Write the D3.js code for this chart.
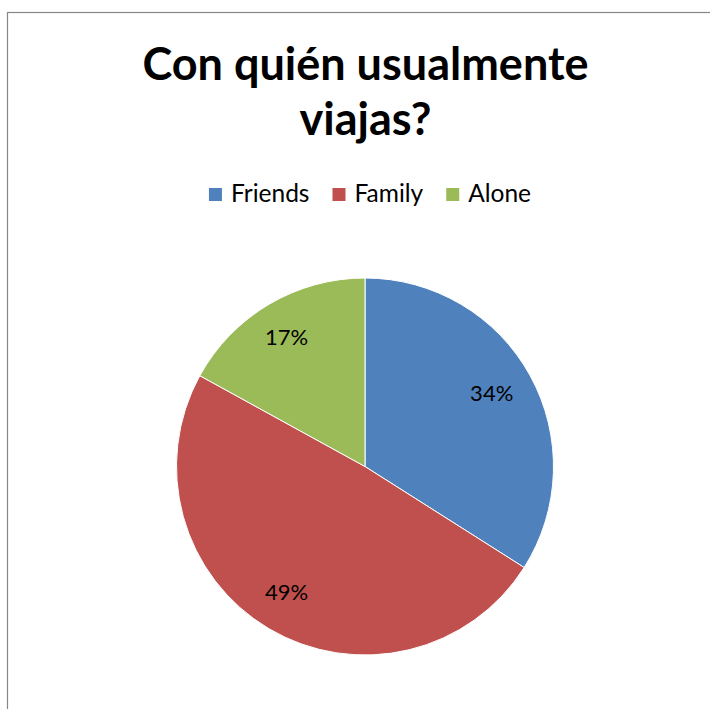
<!DOCTYPE html>
<html>
<head>
<meta charset="utf-8">
<script src="https://cdn.jsdelivr.net/npm/d3@7"></script>
<style>
html,body{margin:0;padding:0;background:#fff;}
svg{display:block;}
</style>
</head>
<body>
<svg id="chart" width="710" height="709"></svg>
<script>
const categories = ["Friends", "Family", "Alone"];
const values = [34, 49, 17];
const labels = ["34%", "49%", "17%"];
const colors = ["#4F81BD", "#C0504D", "#9BBB59"];
const titleLines = ["Con quién usualmente", "viajas?"];

const svg = d3.select("#chart");
const font = "Lato, 'Open Sans', sans-serif";

// frame
svg.append("rect")
  .attr("x", 7.5).attr("y", 12.5)
  .attr("width", 760).attr("height", 760)
  .attr("fill", "#fff").attr("stroke", "#868686").attr("stroke-width", 1.2);

// title
svg.append("g").selectAll("text").data(titleLines).join("text")
  .attr("x", 365.5).attr("y", (d, i) => 80 + i * 55)
  .attr("text-anchor", "middle")
  .attr("font-family", font).attr("font-weight", 700).attr("font-size", 45)
  .attr("fill", "#000")
  .text(d => d);

// legend
const legendFont = 24.5;
const lg = svg.append("g");
const items = lg.selectAll("g").data(categories).join("g");
items.append("rect").attr("width", 13).attr("height", 13).attr("y", 188)
  .attr("fill", (d, i) => colors[i]);
items.append("text").attr("x", 22).attr("y", 202)
  .attr("font-family", font).attr("font-size", legendFont).attr("fill", "#000")
  .text(d => d);
let xpos = 0;
const offs = [];
items.each(function () {
  const w = d3.select(this).select("text").node().getComputedTextLength();
  offs.push(xpos);
  xpos += 22 + w + 23;
});
const total = xpos - 23;
const startX = 370 - total / 2;
items.attr("transform", (d, i) => `translate(${startX + offs[i]},0)`);

// pie
const cx = 365, cy = 466.5, R = 188.5;
const pie = d3.pie().sort(null).value(d => d)(values);
const arc = d3.arc().innerRadius(0).outerRadius(R);
const g = svg.append("g").attr("transform", `translate(${cx},${cy})`);
g.selectAll("path").data(pie).join("path")
  .attr("d", arc)
  .attr("fill", (d, i) => colors[i])
  .attr("stroke", "#fff").attr("stroke-width", 1);

const labelArc = d3.arc().innerRadius(148).outerRadius(148);
g.selectAll("text").data(pie).join("text")
  .attr("transform", d => {
    const c = labelArc.centroid(d);
    return `translate(${c[0] - 3},${c[1] - 2})`;
  })
  .attr("text-anchor", "middle").attr("dy", "0.35em")
  .attr("font-family", font).attr("font-size", 22).attr("fill", "#000")
  .text((d, i) => labels[i]);
</script>
</body>
</html>
